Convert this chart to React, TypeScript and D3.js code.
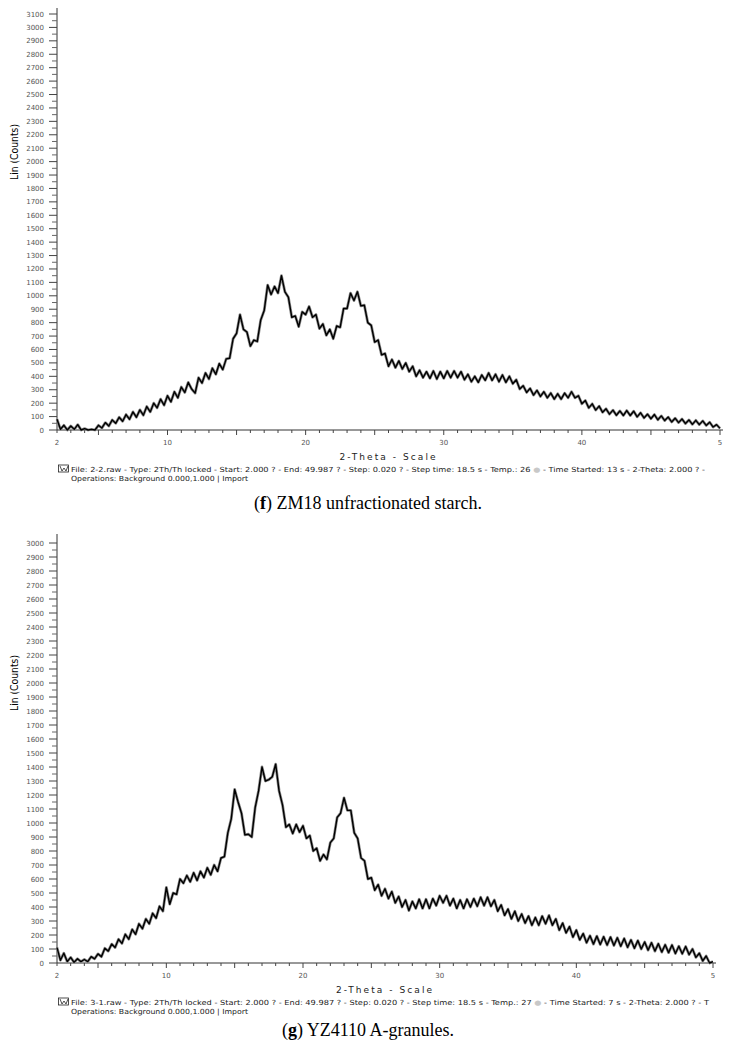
import React from 'react';
import * as d3 from 'd3';

// diffractograms are sampled every 0.25 degree 2-theta, from 2 to 50
const THETA_START = 2;
const THETA_STEP = 0.25;

// (f) ZM18 unfractionated starch, counts
const countsF = [
  80, 5, 35, 0, 30, 5, 40, 0, 10, 0, 5, 0,
  35, 15, 55, 30, 75, 50, 95, 65, 115, 80, 135, 95,
  150, 110, 175, 135, 200, 165, 230, 185, 255, 210, 285, 240,
  320, 280, 355, 305, 275, 390, 350, 425, 380, 460, 415, 495,
  450, 530, 535, 680, 720, 860, 750, 730, 625, 670, 660, 820,
  890, 1080, 1010, 1070, 1020, 1150, 1030, 990, 840, 850, 770, 880,
  860, 920, 840, 860, 755, 790, 705, 750, 680, 775, 765, 905,
  905, 1020, 965, 1030, 925, 930, 800, 780, 655, 670, 560, 570,
  475, 525, 465, 515, 455, 500, 435, 475, 400, 445, 390, 435,
  385, 440, 380, 435, 385, 440, 390, 440, 390, 435, 375, 415,
  360, 400, 355, 410, 370, 425, 370, 415, 360, 410, 355, 400,
  345, 375, 305, 330, 280, 310, 260, 295, 250, 285, 240, 275,
  230, 270, 230, 275, 240, 285, 240, 255, 195, 220, 165, 195,
  148, 178, 132, 158, 118, 148, 110, 142, 108, 145, 108, 140,
  98, 128, 90, 118, 84, 115, 76, 105, 70, 96, 60, 88,
  55, 82, 48, 75, 42, 72, 40, 68, 34, 58, 22, 40,
  12,
];

// (g) YZ4110 A-granules, counts
const countsG = [
  110, 20, 70, 10, 40, 5, 30, 10, 25, 10, 45, 30,
  65, 45, 105, 85, 135, 110, 170, 140, 205, 170, 240, 205,
  280, 245, 315, 280, 355, 320, 405, 370, 540, 420, 500, 490,
  600, 570, 625, 580, 645, 590, 655, 610, 680, 630, 700, 655,
  750, 760, 930, 1030, 1240, 1150, 1070, 915, 920, 900, 1110, 1230,
  1400, 1300, 1310, 1330, 1420, 1230, 1130, 970, 990, 925, 990, 935,
  980, 890, 910, 800, 820, 730, 775, 740, 860, 890, 1040, 1070,
  1180, 1090, 1090, 930, 890, 750, 730, 600, 610, 520, 560, 480,
  530, 460, 510, 430, 475, 400, 450, 375, 440, 390, 455, 390,
  455, 390, 460, 410, 480, 430, 480, 410, 460, 390, 450, 390,
  455, 400, 460, 405, 470, 410, 470, 405, 450, 370, 415, 340,
  385, 315, 370, 300, 350, 285, 335, 270, 325, 270, 335, 280,
  340, 270, 315, 235, 285, 215, 260, 185, 235, 165, 210, 145,
  195, 135, 192, 132, 188, 128, 185, 125, 180, 120, 175, 112,
  165, 105, 160, 100, 150, 92, 145, 85, 138, 78, 130, 74,
  128, 68, 120, 66, 118, 60, 100, 40, 70, 15, 50, 0,
  10,
];

const xTickValues = [2, 10, 20, 30, 40, 50];
const xTickLabels = ['2', '10', '20', '30', '40', '5'];

const footerF = [
  'File: 2-2.raw - Type: 2Th/Th locked - Start: 2.000 ? - End: 49.987 ? - Step: 0.020 ? - Step time: 18.5 s - Temp.: 26 ',
  ' - Time Started: 13 s - 2-Theta: 2.000 ? -',
];
const footerG = [
  'File: 3-1.raw - Type: 2Th/Th locked - Start: 2.000 ? - End: 49.987 ? - Step: 0.020 ? - Step time: 18.5 s - Temp.: 27 ',
  ' - Time Started: 7 s - 2-Theta: 2.000 ? - T',
];
const operationsLine = 'Operations: Background 0.000,1.000 | Import';

const tickFont = 'DejaVu Sans, Verdana, sans-serif';

function Panel({ counts, yMax, yTopPx, yZeroPx, axisTopPx, xEndPx, footer, footerEnd, letter, caption, captionY, labelY }) {
  const x = d3.scaleLinear().domain([2, 50]).range([57, xEndPx]);
  const y = d3.scaleLinear().domain([0, yMax]).range([yZeroPx, yTopPx]);

  const line = d3
    .line()
    .x((d, i) => x(THETA_START + i * THETA_STEP))
    .y((d) => y(d));
  const path = line(counts);

  const majorY = d3.range(0, yMax + 1, 100);
  const minorY = d3.range(50, yMax, 100);
  const minorX = d3.range(2, 51, 1);

  const footY = yZeroPx + 42;
  const centerX = (57 + xEndPx) / 2 - 1;

  return (
    <g>
      {/* y axis */}
      <line x1={57} y1={axisTopPx} x2={57} y2={yZeroPx} stroke="#333" strokeWidth={1} />
      {majorY.map((v) => (
        <g key={'my' + v}>
          <line x1={49} x2={57} y1={y(v)} y2={y(v)} stroke="#444" strokeWidth={1} />
          <text x={44} y={y(v) + 2.5} textAnchor="end" fontSize={7} fill="#555" fontFamily={tickFont}>
            {v}
          </text>
        </g>
      ))}
      {minorY.map((v) => (
        <line key={'ny' + v} x1={52} x2={57} y1={y(v)} y2={y(v)} stroke="#666" strokeWidth={1} />
      ))}
      <text
        transform={`translate(18,${labelY}) rotate(-90)`}
        textAnchor="middle"
        fontSize={10}
        fontFamily="DejaVu Sans Condensed, DejaVu Sans, sans-serif"
        fill="#000"
        textLength={56}
        lengthAdjust="spacingAndGlyphs"
      >
        Lin (Counts)
      </text>

      {/* x axis */}
      <line x1={57} y1={yZeroPx} x2={xEndPx + 3} y2={yZeroPx} stroke="#333" strokeWidth={1} />
      {minorX.map((v) => (
        <line
          key={'tx' + v}
          x1={x(v)}
          x2={x(v)}
          y1={yZeroPx}
          y2={yZeroPx + (v % 5 === 0 ? 5 : 3)}
          stroke="#444"
          strokeWidth={1}
        />
      ))}
      {xTickValues.map((v, i) => (
        <text key={'lx' + v} x={x(v)} y={yZeroPx + 15} textAnchor="middle" fontSize={7} fill="#555" fontFamily={tickFont}>
          {xTickLabels[i]}
        </text>
      ))}
      <text
        x={centerX}
        y={yZeroPx + 30}
        textAnchor="middle"
        fontSize={9}
        fill="#222"
        fontFamily={tickFont}
        textLength={96}
        lengthAdjust="spacing"
      >
        2-Theta - Scale
      </text>

      {/* diffractogram */}
      <path d={path} fill="none" stroke="#8c8c8c" strokeWidth={2.8} strokeLinejoin="round" />
      <path d={path} fill="none" stroke="#000" strokeWidth={1.4} strokeLinejoin="round" />

      {/* footer */}
      <rect x={58.5} y={footY - 7} width={10} height={7} fill="none" stroke="#222" strokeWidth={0.8} />
      <path
        d={`M60,${footY - 6} L62,${footY - 1} L64,${footY - 4} L66,${footY - 1} L68,${footY - 6}`}
        fill="none"
        stroke="#222"
        strokeWidth={0.8}
      />
      <text x={71} y={footY} fontSize={7} fill="#222" fontFamily={tickFont} textLength={footerEnd - 71} lengthAdjust="spacingAndGlyphs">
        {footer[0]}
        <tspan fill="#c8c8c8">●</tspan>
        {footer[1]}
      </text>
      <text x={71} y={footY + 9} fontSize={7} fill="#222" fontFamily={tickFont} textLength={177} lengthAdjust="spacingAndGlyphs">
        {operationsLine}
      </text>

      {/* caption */}
      <text x={368} y={captionY} textAnchor="middle" fontSize={18} fill="#000" fontFamily="Liberation Serif, Times New Roman, serif">
        (<tspan fontWeight="bold">{letter}</tspan>) {caption}
      </text>
    </g>
  );
}

export default function App() {
  return (
    <svg
      width={736}
      height={1046}
      viewBox="0 0 736 1046"
      style={{ position: 'absolute', left: 0, top: 0, background: '#fff' }}
    >
      <rect width={736} height={1046} fill="#fff" />
      <Panel
        counts={countsF}
        yMax={3100}
        yTopPx={14}
        yZeroPx={430}
        axisTopPx={8}
        xEndPx={720}
        footer={footerF}
        footerEnd={705}
        letter="f"
        caption="ZM18 unfractionated starch."
        captionY={509}
        labelY={152}
      />
      <Panel
        counts={countsG}
        yMax={3000}
        yTopPx={543}
        yZeroPx={963}
        axisTopPx={534}
        xEndPx={713}
        footer={footerG}
        footerEnd={709}
        letter="g"
        caption="YZ4110 A-granules."
        captionY={1036}
        labelY={683}
      />
    </svg>
  );
}
